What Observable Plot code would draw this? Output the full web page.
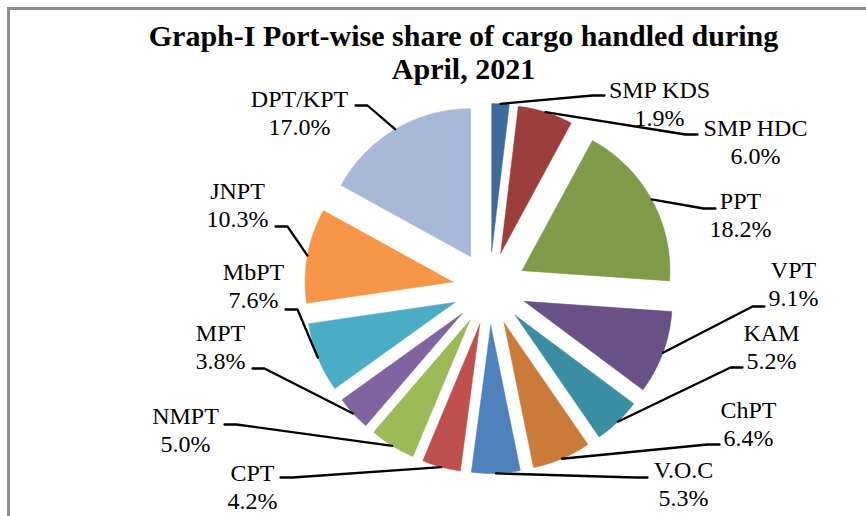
<!DOCTYPE html>
<html>
<head>
<meta charset="utf-8">
<script src="https://cdn.jsdelivr.net/npm/d3@7"></script>
<script src="https://cdn.jsdelivr.net/npm/@observablehq/plot@0.6"></script>
<style>
  body { margin: 0; background: #fff; }
  #wrap { position: relative; width: 866px; height: 516px; overflow: hidden; background: #fff; }
  #wrap svg { position: absolute; left: 0; top: 0; }
  #wrap svg text { font-family: "Liberation Serif", "Times New Roman", serif !important; }
  #border { position: absolute; left: 7px; top: 7px; right: -10px; bottom: -10px;
            border-top: 3px solid #8e8e8e; border-left: 3px solid #8e8e8e; pointer-events: none; }
</style>
</head>
<body>
<div id="wrap"></div>
<script>
// ---- data ----
const ports  = ["SMP KDS", "SMP HDC", "PPT", "VPT", "KAM", "ChPT", "V.O.C", "CPT", "NMPT", "MPT", "MbPT", "JNPT", "DPT/KPT"];
const shares = [1.9, 6.0, 18.2, 9.1, 5.2, 6.4, 5.3, 4.2, 5.0, 3.8, 7.6, 10.3, 17.0];
const colors = ["#3f6a9e", "#9c3f3c", "#7f9a48", "#695086", "#3b8da2", "#cb7b39",
                "#4f81bd", "#c0504d", "#9bbb59", "#8064a2", "#4bacc6", "#f79646", "#a8b9d8"];
const titleLines = ["Graph-I Port-wise share of cargo handled during", "April, 2021"];

// ---- layout (pixels) ----
const W = 866, H = 516;
const center = [489, 288], radius = 148, explode = 37;
// label block: centre x, baseline of first line
const labelAt = [[659, 97], [755, 135], [740, 208], [793, 277], [771, 340], [748, 417], [683, 477],
                 [252, 480], [185, 423], [220, 340], [253, 279], [237, 198], [299, 106]];
// end of the leader line next to its label
const elbowAt = [[604, 95], [697, 134], [715, 208], [764, 306], [742, 367], [719, 444], [647, 477],
                 [280, 477], [224, 424], [252, 368], [285, 309], [275, 226], [355, 105]];
const lineGap = 28.5;
const serif = "'Liberation Serif', 'Times New Roman', serif";

// ---- geometry from the data ----
const arcs = d3.pie().sort(null).value(d => d)(shares);
const pt = (ox, oy, r, a) => [ox + r * Math.sin(a), oy - r * Math.cos(a)];

const slicePts = [];
const leaderPts = [];
arcs.forEach((a, i) => {
  const mid = (a.startAngle + a.endAngle) / 2;
  const [ax, ay] = pt(center[0], center[1], explode, mid);
  slicePts.push({port: ports[i], color: colors[i], x: ax, y: ay});
  const n = Math.max(2, Math.ceil((a.endAngle - a.startAngle) / 0.01));
  for (let k = 0; k <= n; k++) {
    const t = a.startAngle + (a.endAngle - a.startAngle) * k / n;
    const [x, y] = pt(ax, ay, radius, t);
    slicePts.push({port: ports[i], color: colors[i], x, y});
  }
  slicePts.push({port: ports[i], color: colors[i], x: ax, y: ay});
  // leader line: from arc midpoint to elbow then a short horizontal piece
  const [mx, my] = pt(ax, ay, radius, mid);
  const [ex, ey] = elbowAt[i];
  const side = ex > center[0] ? -1 : 1;
  leaderPts.push({port: ports[i], x: mx, y: my});
  leaderPts.push({port: ports[i], x: ex + side * 12, y: ey});
  leaderPts.push({port: ports[i], x: ex, y: ey});
});

const labels = ports.map((p, i) => ({
  text: p + "\n" + shares[i].toFixed(1) + "%",
  x: labelAt[i][0],
  y: labelAt[i][1] + lineGap
}));

const chart = Plot.plot({
  width: W, height: H,
  margin: 0,
  style: {background: "transparent", fontFamily: serif},
  x: {domain: [0, W], range: [0, W], axis: null},
  y: {domain: [0, H], range: [0, H], axis: null},
  color: {type: "identity"},
  marks: [
    Plot.line(slicePts, {x: "x", y: "y", z: "port", fill: "color", stroke: "color", strokeWidth: 0.5, curve: "linear"}),
    Plot.line(leaderPts, {x: "x", y: "y", z: "port", stroke: "black", strokeWidth: 2.3, strokeLinejoin: "miter"}),
    Plot.text(labels, {x: "x", y: "y", text: "text", fontSize: 24, fontFamily: serif, lineAnchor: "bottom",
                       lineHeight: lineGap / 24, textAnchor: "middle", fill: "black"}),
    Plot.text([titleLines.join("\n")], {x: () => 463, y: () => 78, text: d => d, fontSize: 30, fontFamily: serif,
                       fontWeight: "bold", lineAnchor: "bottom", lineHeight: 1.1, textAnchor: "middle", fill: "black"})
  ]
});

const wrap = document.getElementById("wrap");
wrap.appendChild(chart);
const border = document.createElement("div");
border.id = "border";
wrap.appendChild(border);
</script>
</body>
</html>
